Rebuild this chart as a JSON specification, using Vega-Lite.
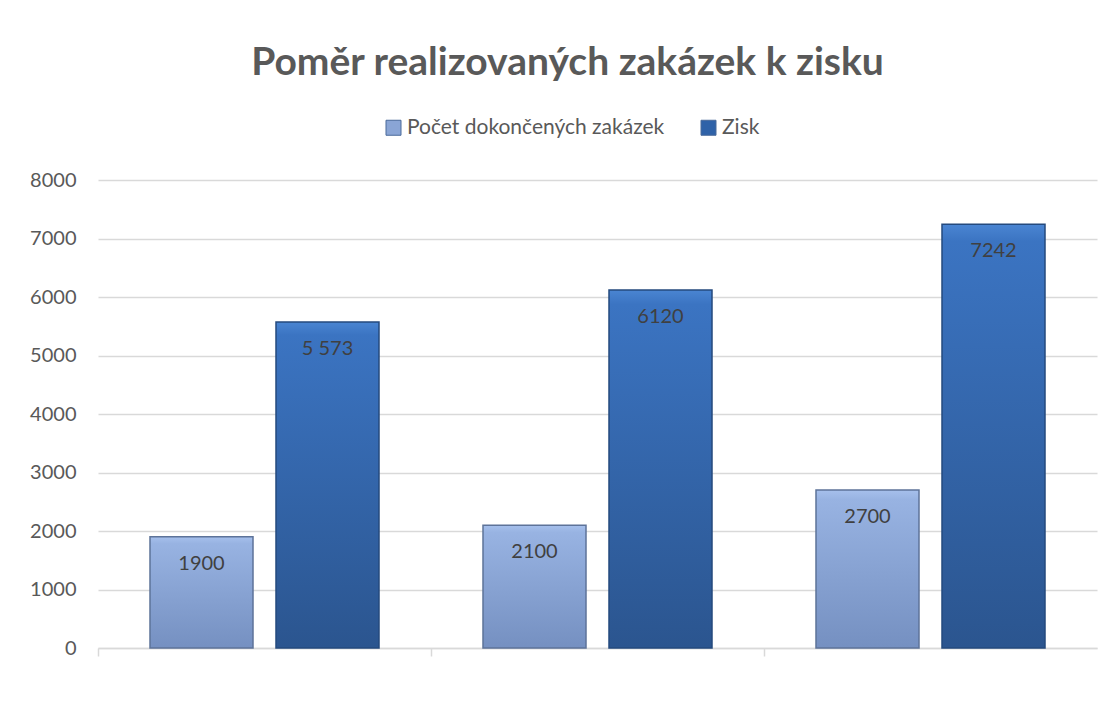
{
  "$schema": "https://vega.github.io/schema/vega-lite/v6.json",
  "width": 999,
  "height": 468,
  "autosize": {"type": "none"},
  "padding": {"left": 98, "top": 180, "right": 18, "bottom": 76},
  "background": "white",
  "title": {
    "text": "Poměr realizovaných zakázek k zisku",
    "font": "Lato",
    "fontSize": 39,
    "fontWeight": "bold",
    "color": "#595959",
    "anchor": "middle",
    "dx": -30,
    "offset": 34
  },
  "config": {
    "view": {"stroke": null},
    "font": "Lato"
  },
  "data": {
    "values": [
      {"g": "1", "series": "Počet dokončených zakázek", "value": 1900, "label": "1900"},
      {"g": "1", "series": "Zisk", "value": 5573, "label": "5 573"},
      {"g": "2", "series": "Počet dokončených zakázek", "value": 2100, "label": "2100"},
      {"g": "2", "series": "Zisk", "value": 6120, "label": "6120"},
      {"g": "3", "series": "Počet dokončených zakázek", "value": 2700, "label": "2700"},
      {"g": "3", "series": "Zisk", "value": 7242, "label": "7242"}
    ]
  },
  "encoding": {
    "x": {
      "field": "g",
      "type": "nominal",
      "scale": {"paddingInner": 0, "paddingOuter": 0},
      "axis": {
        "title": null,
        "labels": false,
        "ticks": true,
        "bandPosition": 0,
        "tickColor": "#d9d9d9",
        "tickSize": 8,
        "tickWidth": 1.5,
        "domainColor": "#d9d9d9",
        "domainWidth": 1.5,
        "grid": false
      }
    },
    "xOffset": {
      "field": "series",
      "type": "nominal",
      "sort": ["Počet dokončených zakázek", "Zisk"],
      "scale": {"paddingInner": 0.1825, "paddingOuter": 0.4127}
    },
    "y": {
      "field": "value",
      "type": "quantitative",
      "scale": {"domain": [0, 8000], "nice": false},
      "axis": {
        "title": null,
        "values": [0, 1000, 2000, 3000, 4000, 5000, 6000, 7000, 8000],
        "grid": true,
        "gridColor": "#d9d9d9",
        "gridWidth": 1.3,
        "domain": false,
        "ticks": false,
        "labelFontSize": 20,
        "labelColor": "#595959",
        "labelPadding": 22,
        "format": "d"
      }
    }
  },
  "layer": [
    {
      "mark": {"type": "bar", "strokeWidth": 0},
      "encoding": {
        "color": {
          "field": "series",
          "type": "nominal",
          "scale": {"domain": ["Počet dokončených zakázek", "Zisk"], "range": ["#8aa5d5", "#2f62a8"]},
          "legend": {
            "orient": "none",
            "legendX": 285,
            "legendY": -63,
            "direction": "horizontal",
            "title": null,
            "symbolType": "square",
            "symbolSize": 225,
            "symbolStrokeColor": "#4a6a9a",
            "symbolStrokeWidth": 1,
            "labelFontSize": 21,
            "labelColor": "#595959",
            "labelOffset": 3,
            "labelLimit": 500,
            "columnPadding": 33
          }
        }
      }
    },
    {
      "transform": [{"filter": "datum.series === 'Počet dokončených zakázek'"}],
      "mark": {
        "type": "bar",
        "stroke": "#5d7399",
        "strokeWidth": 1.5,
        "color": {
          "gradient": "linear", "x1": 0, "y1": 0, "x2": 0, "y2": 1,
          "stops": [
            {"offset": 0, "color": "#a6c0ec"},
            {"offset": 0.06, "color": "#98b3e2"},
            {"offset": 1, "color": "#7590c1"}
          ]
        }
      }
    },
    {
      "transform": [{"filter": "datum.series === 'Zisk'"}],
      "mark": {
        "type": "bar",
        "stroke": "#244a7e",
        "strokeWidth": 1.5,
        "color": {
          "gradient": "linear", "x1": 0, "y1": 0, "x2": 0, "y2": 1,
          "stops": [
            {"offset": 0, "color": "#4a85d2"},
            {"offset": 0.04, "color": "#3b74c2"},
            {"offset": 1, "color": "#2b558f"}
          ]
        }
      }
    },
    {
      "mark": {"type": "text", "dy": 27, "baseline": "middle", "align": "center", "fontSize": 20, "color": "#404040", "font": "Lato"},
      "encoding": {
        "text": {"field": "label", "type": "nominal"}
      }
    }
  ]
}
